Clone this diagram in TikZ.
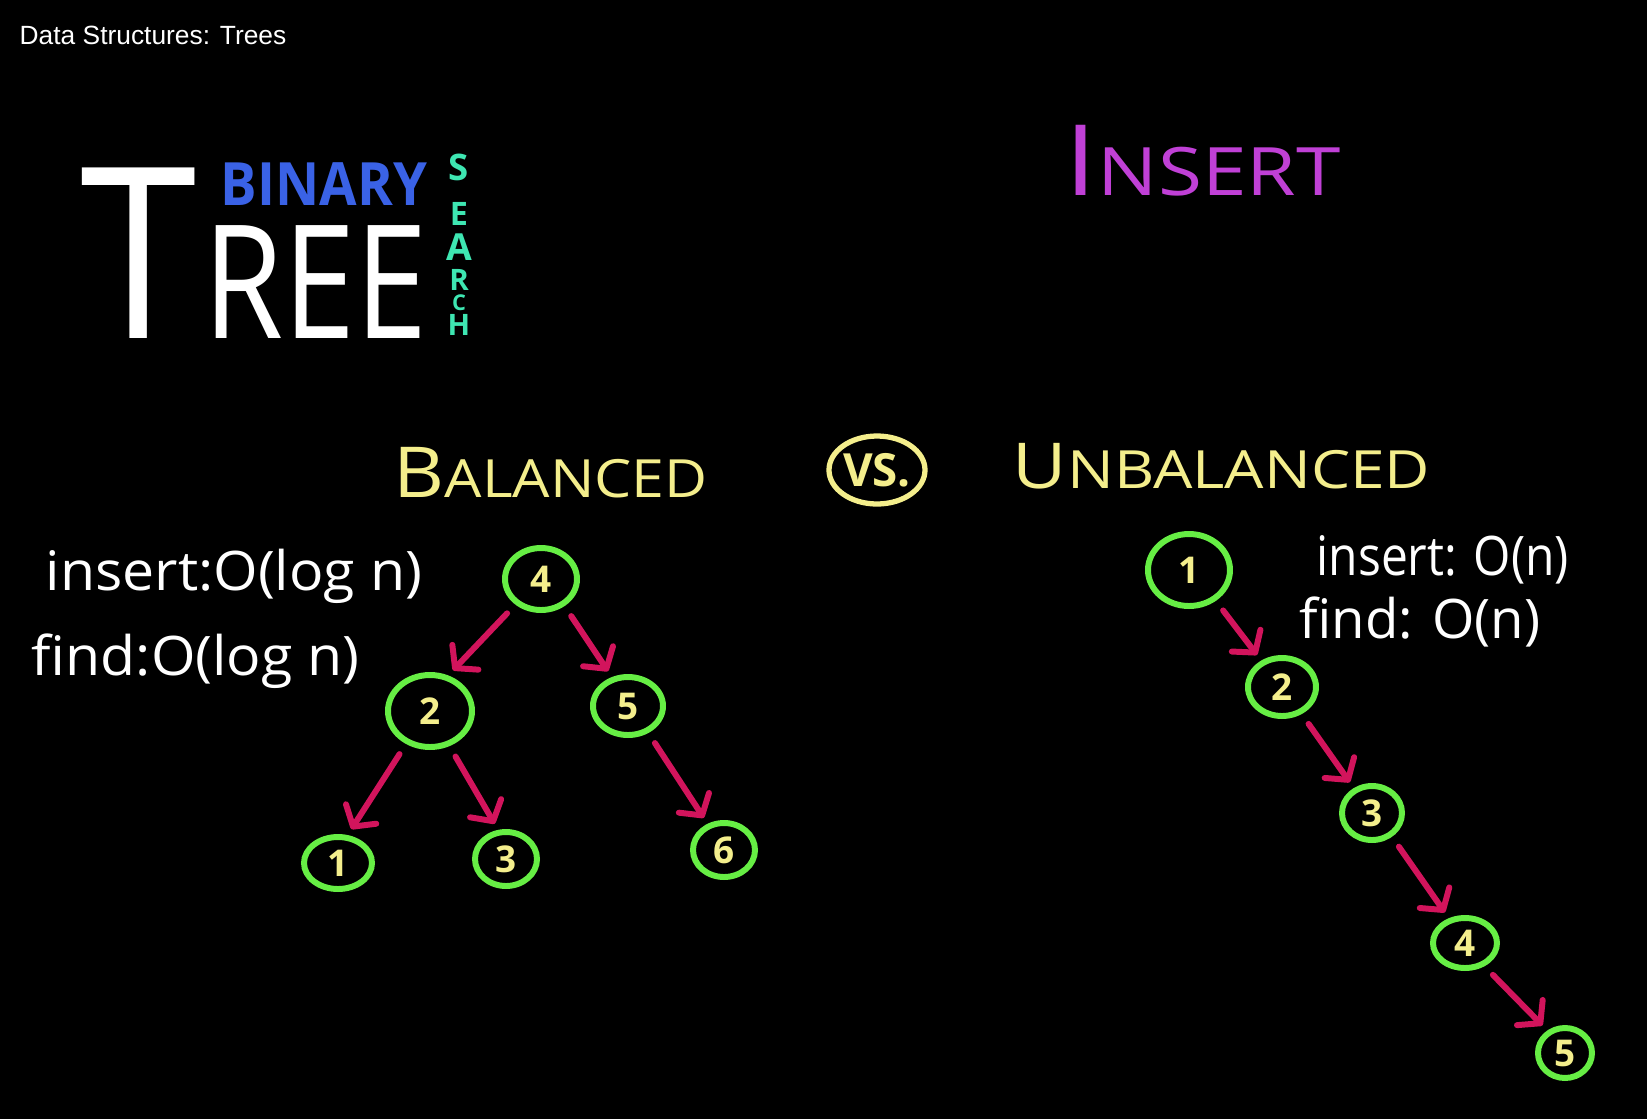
\documentclass[tikz,border=0pt]{standalone}
\usepackage{fontspec}
\setmainfont{Liberation Sans}
\newfontfamily\markerfont{Open Sans}
\usetikzlibrary{arrows.meta, shapes.geometric}

\definecolor{chalkgreen}{HTML}{66EE44}
\definecolor{chalkyellow}{HTML}{F4EE8C}
\definecolor{chalkpink}{HTML}{D2145C}
\definecolor{chalkblue}{HTML}{3A62E6}
\definecolor{chalkteal}{HTML}{3EE6B2}
\definecolor{chalkpurple}{HTML}{C040D6}

\begin{document}
\begin{tikzpicture}[
  treenode/.style={ellipse, draw=chalkgreen, line width=1.7pt, text=chalkyellow,
                   font=\markerfont\bfseries\fontsize{10.5}{10.5}\selectfont},
  link/.style={draw=chalkpink, line width=1.7pt, line cap=round,
               -{Straight Barb[length=0.15cm, width=0.36cm, round]},
               shorten <=0.12cm, shorten >=0.07cm},
  chalk/.style={text=white, anchor=base west, font=\markerfont\fontsize{15.5}{16}\selectfont},
  every node/.style={inner sep=0pt}
]
% Board
\fill[black] (0,0) rectangle (16.47,-11.19);
\useasboundingbox (0,0) rectangle (16.47,-11.19);

% Title bar
\node[anchor=base west, text=white, font=\fontsize{7.5}{9}\selectfont] (title) at (0.19,-0.44) {Data Structures: Trees};

% Binary search tree heading
\node[anchor=base west, text=white, xscale=0.88, font=\markerfont\fontsize{68}{68}\selectfont] (treeT) at (0.80,-3.38) {T};
\node[anchor=base west, text=white, xscale=0.82, font=\markerfont\fontsize{45}{45}\selectfont] (treeREE) at (2.03,-3.38) {REE};
\node[anchor=base, text=chalkblue, xscale=0.91, font=\markerfont\bfseries\fontsize{17}{18}\selectfont] (binary) at (3.24,-2.05) {BINARY};
\foreach \ch/\y/\sz in {S/1.80/10.4, E/2.25/9.2, A/2.60/10.6, R/2.90/8.4, C/3.10/6.2, H/3.35/8.4}
  \node[anchor=base, text=chalkteal, font=\markerfont\bfseries\fontsize{\sz}{\sz}\selectfont] (search\ch) at (4.59,-\y) {\ch};

% Insert heading
\node[anchor=base west, text=chalkpurple, xscale=1.2, font=\markerfont] (insert) at (10.64,-1.95)
  {{\fontsize{28}{28}\selectfont I}{\fontsize{19}{19}\selectfont NSERT}};

% Balanced vs. unbalanced
\node[anchor=base west, text=chalkyellow, xscale=1.12, font=\markerfont] (balanced) at (3.93,-4.97)
  {{\fontsize{20}{20}\selectfont B}{\fontsize{15}{15}\selectfont ALANCED}};
\node[ellipse, draw=chalkyellow, line width=1.5pt, minimum width=0.94cm, minimum height=0.68cm,
      text=chalkyellow, font=\markerfont\bfseries\fontsize{13}{13}\selectfont] (vs) at (8.77,-4.70) {VS.};
\node[anchor=base west, text=chalkyellow, xscale=1.18, font=\markerfont] (unbalanced) at (10.12,-4.88)
  {{\fontsize{18}{18}\selectfont U}{\fontsize{15}{15}\selectfont NBALANCED}};

% Running times
\node[chalk, xscale=1.05] (balins) at (0.45,-5.90) {insert:O(log n)};
\node[chalk, xscale=1.05] (balfind) at (0.31,-6.75) {find:O(log n)};
\node[chalk, xscale=0.88] (unbins) at (13.16,-5.75) {insert: O(n)};
\node[chalk] (unbfind) at (12.99,-6.38) {find: O(n)};

% Tree nodes
\foreach \name/\val/\x/\y/\w/\h in {
    b4/4/5.41/5.79/0.72/0.62, b2/2/4.30/7.11/0.84/0.72, b5/5/6.28/7.06/0.70/0.58,
    b1/1/3.38/8.63/0.68/0.52, b3/3/5.06/8.59/0.62/0.54, b6/6/7.24/8.50/0.62/0.54,
    u1/1/11.89/5.70/0.82/0.72, u2/2/12.82/6.87/0.68/0.58, u3/3/13.72/8.13/0.60/0.54,
    u4/4/14.65/9.43/0.64/0.50, u5/5/15.65/10.53/0.54/0.50}
  \node[treenode, minimum width=\w cm, minimum height=\h cm] (\name) at (\x,-\y) {\val};

% Edges
\foreach \a/\b/\s/\e in {b4/b2/-135/63, b4/b5/-49/119, b2/b1/-126/71, b2/b3/-61/105, b5/b6/-53/122,
    u1/u2/-49/128, u2/u3/-54/126, u3/u4/-50/123, u4/u5/-50/128}
  \draw[link] (\a.\s) -- (\b.\e);
\end{tikzpicture}
\end{document}
